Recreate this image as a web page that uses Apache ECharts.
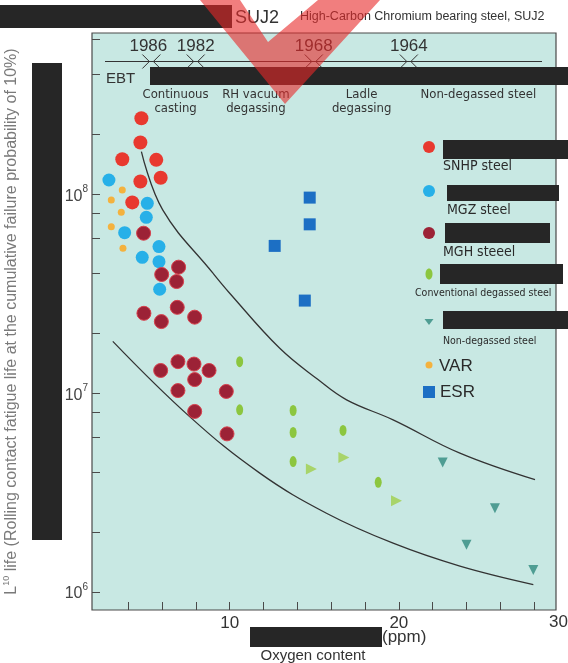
<!DOCTYPE html>
<html>
<head>
<meta charset="utf-8">
<script src="https://cdn.jsdelivr.net/npm/echarts@6/dist/echarts.min.js"></script>
<style>
  html, body { margin: 0; padding: 0; background: #ffffff; }
  #chart { width: 568px; height: 663px; }
</style>
</head>
<body>
<div id="chart"></div>
<script>
// Axis ranges and ticks (oxygen content in ppm, L10 life in cycles)
const xRange = [1.86, 29.29];
const yRange = [8.12e5, 6.47e8];
const xTickValues = [4, 6, 8, 10, 12, 14, 16, 18, 20, 22, 24, 26, 28];
const xLabelValues = [10, 20];
const xEdgeLabel = 30;
const yTickValues = [
  1e6, 2e6, 4e6, 6e6, 8e6,
  1e7, 2e7, 4e7, 6e7, 8e7,
  1e8, 2e8, 4e8, 6e8
];
const yLabelValues = [1e6, 1e7, 1e8];

// Steel grades: [oxygen ppm, L10 life]
const snhpSteel = [[4.78, 2.41e8], [4.72, 1.82e8], [3.65, 1.50e8], [5.66, 1.49e8], [4.72, 1.16e8], [5.92, 1.21e8], [4.24, 9.1e7]];
const mgzSteel = [[2.86, 1.18e8], [5.13, 9.0e7], [5.07, 7.66e7], [3.79, 6.41e7], [5.82, 5.46e7], [4.83, 4.82e7], [5.82, 4.58e7], [5.86, 3.33e7]];
const mghSteel = [[4.91, 6.37e7], [6.98, 4.30e7], [5.98, 3.95e7], [6.86, 3.64e7], [6.90, 2.70e7], [4.93, 2.52e7], [5.96, 2.29e7], [7.93, 2.41e7],
  [5.92, 1.30e7], [6.94, 1.44e7], [7.89, 1.40e7], [8.78, 1.30e7], [7.93, 1.17e7], [6.94, 1.03e7], [9.80, 1.02e7], [7.93, 8.09e6], [9.84, 6.24e6]];
const degassedOval = [[10.59, 1.44e7], [10.59, 8.24e6], [13.75, 8.18e6], [13.75, 6.34e6], [13.75, 4.53e6], [16.70, 6.49e6], [18.78, 3.56e6]];
const degassedTriangle = [[14.83, 4.15e6], [16.75, 4.74e6], [19.86, 2.88e6]];
const nonDegassed = [[22.59, 4.48e6], [25.68, 2.64e6], [24.0, 1.73e6], [27.95, 1.29e6]];
const varSteel = [[3.65, 1.05e8], [3.0, 9.36e7], [3.59, 8.13e7], [3.0, 6.87e7], [3.69, 5.35e7]];
const esrSteel = [[14.73, 9.62e7], [14.73, 7.06e7], [12.66, 5.5e7], [14.44, 2.92e7]];

// Upper and lower bounding curves
const upperBand = [[4.78, 1.64e8], [6.04, 8.34e7], [9.01, 4.01e7], [10.0, 3.18e7], [12.96, 1.68e7], [15.22, 1.17e7], [16.91, 9.25e6], [19.66, 7.34e6], [23.61, 4.99e6], [28.05, 3.67e6]];
const lowerBand = [[3.09, 1.82e7], [7.63, 7.62e6], [11.78, 3.96e6], [15.72, 2.49e6], [19.66, 1.76e6], [23.61, 1.35e6], [27.95, 1.09e6]];

// Process timeline along the oxygen axis
const yearMarks = [
  { year: '1986', oxygen: 5.37, dx: -3 },
  { year: '1982', oxygen: 7.99, dx: 0 },
  { year: '1968', oxygen: 14.97, dx: 0 },
  { year: '1964', oxygen: 20.59, dx: 0 }
];
const stageLabels = [
  { text: 'Continuous\ncasting', oxygen: 6.8 },
  { text: 'RH vacuum\ndegassing', oxygen: 11.55 },
  { text: 'Ladle\ndegassing', oxygen: 17.8 },
  { text: 'Non-degassed steel', oxygen: 24.7 }
];

const FONT = "'Liberation Sans', Arial, sans-serif";
const NARROW = "'Liberation Sans Narrow', 'DejaVu Sans Condensed', 'Liberation Sans', sans-serif";
const INK = '#2a2a2a';
const BAR = '#262626';

const colors = {
  snhp: '#e8392f',
  mgz: '#27b0e8',
  mgh: '#9c2236',
  degassed: '#8cc63f',
  degassedTri: '#a8d46a',
  nonDegassed: '#4f9d93',
  var: '#f4b23e',
  esr: '#1c6fc4'
};

const chart = echarts.init(document.getElementById('chart'));

const option = {
  animation: false,
  grid: {
    left: 92, top: 33, right: 12, bottom: 53,
    containLabel: false,
    outerBoundsMode: 'none',
    show: true,
    backgroundColor: '#c8e8e3',
    borderColor: '#4a4a4a',
    borderWidth: 1.2
  },
  xAxis: {
    type: 'value',
    min: xRange[0],
    max: xRange[1],
    axisLine: { show: false },
    splitLine: { show: false },
    axisTick: {
      show: true, inside: true, length: 8,
      customValues: xTickValues,
      lineStyle: { color: '#4a4a4a', width: 1 }
    },
    axisLabel: {
      customValues: xLabelValues,
      color: '#333', fontSize: 17, fontFamily: FONT, margin: 5
    }
  },
  yAxis: {
    type: 'log',
    logBase: 10,
    min: yRange[0],
    max: yRange[1],
    axisLine: { show: false },
    splitLine: { show: false },
    minorTick: { show: false },
    axisTick: {
      show: true, inside: true, length: 8,
      customValues: yTickValues,
      lineStyle: { color: '#4a4a4a', width: 1 }
    },
    axisLabel: {
      customValues: yLabelValues,
      margin: 4,
      formatter: v => '{b|10}{s|' + Math.round(Math.log10(v)) + '}',
      rich: {
        b: { fontSize: 16, lineHeight: 20, color: '#444', fontFamily: FONT, verticalAlign: 'bottom' },
        s: { fontSize: 10, lineHeight: 10, color: '#444', fontFamily: FONT, verticalAlign: 'top' }
      }
    },
    name: '{b|L}{s|10}{b| life (Rolling contact fatigue life at the cumulative failure probability of 10%)}',
    nameLocation: 'middle',
    nameRotate: 90,
    nameGap: 72,
    nameTextStyle: {
      rich: {
        b: { fontSize: 16, lineHeight: 18, color: '#7a7a7a', fontFamily: FONT, verticalAlign: 'bottom' },
        s: { fontSize: 9, lineHeight: 9, color: '#7a7a7a', fontFamily: FONT, verticalAlign: 'top' }
      }
    }
  },
  series: [
    {
      name: 'Upper band', type: 'line', data: upperBand, smooth: 0.4, symbol: 'none',
      lineStyle: { color: '#333', width: 1.3 }, z: 1
    },
    {
      name: 'Lower band', type: 'line', data: lowerBand, smooth: 0.4, symbol: 'none',
      lineStyle: { color: '#333', width: 1.3 }, z: 1
    },
    {
      name: 'SNHP steel', type: 'scatter', data: snhpSteel, symbol: 'circle', symbolSize: 14,
      itemStyle: { color: colors.snhp, opacity: 1 }
    },
    {
      name: 'MGZ steel', type: 'scatter', data: mgzSteel, symbol: 'circle', symbolSize: 13,
      itemStyle: { color: colors.mgz, opacity: 1 }
    },
    {
      name: 'MGH steel', type: 'scatter', data: mghSteel, symbol: 'circle', symbolSize: 14,
      itemStyle: { color: colors.mgh, borderColor: '#d8404c', borderWidth: 1, opacity: 1 }
    },
    {
      name: 'Conventional degassed steel', type: 'scatter', data: degassedOval, symbol: 'circle', symbolSize: [7, 11],
      itemStyle: { color: colors.degassed, opacity: 1 }
    },
    {
      name: 'Conventional degassed steel (2)', type: 'scatter', data: degassedTriangle, symbol: 'triangle',
      symbolRotate: -90, symbolSize: 11,
      itemStyle: { color: colors.degassedTri, opacity: 1 }
    },
    {
      name: 'Non-degassed steel', type: 'scatter', data: nonDegassed, symbol: 'triangle',
      symbolRotate: 180, symbolSize: 10,
      itemStyle: { color: colors.nonDegassed, opacity: 1 }
    },
    {
      name: 'VAR', type: 'scatter', data: varSteel, symbol: 'circle', symbolSize: 7,
      itemStyle: { color: colors.var, opacity: 1 }
    },
    {
      name: 'ESR', type: 'scatter', data: esrSteel, symbol: 'rect', symbolSize: 12,
      itemStyle: { color: colors.esr, opacity: 1 }
    }
  ]
};

chart.setOption(option);

const xPix = v => chart.convertToPixel({ xAxisIndex: 0 }, v);

const g = [];
const txt = (x, y, text, size, opts = {}) => g.push({
  type: 'text', x, y, z: 20,
  style: Object.assign({
    text, fontSize: size, fontFamily: FONT, fill: INK,
    textAlign: 'left', textVerticalAlign: 'middle'
  }, opts)
});
const bar = (x, y, w, h) => g.push({
  type: 'rect', z: 30, shape: { x, y, width: w, height: h }, style: { fill: BAR }
});

// Header
bar(0, 5, 232, 23);
txt(235, 18, 'SUJ2', 18, { fill: '#333' });
txt(300, 17, 'High-Carbon Chromium bearing steel, SUJ2', 12.5, { fill: '#333' });

// Y-axis second caption bar
bar(32, 63, 30, 477);

// Timeline
const lineY = 61.5;
g.push({ type: 'line', z: 20, shape: { x1: 105, y1: lineY, x2: 542, y2: lineY }, style: { stroke: '#333', lineWidth: 1 } });
yearMarks.forEach(m => {
  const p = xPix(m.oxygen);
  txt(p + m.dx, 46, m.year, 17, { textAlign: 'center', fill: '#333' });
  g.push({ type: 'polyline', z: 21, shape: { points: [[p - 9, lineY - 7], [p - 2, lineY], [p - 9, lineY + 7]] }, style: { stroke: '#333', lineWidth: 1, fill: null } });
  g.push({ type: 'polyline', z: 21, shape: { points: [[p + 9, lineY - 7], [p + 2, lineY], [p + 9, lineY + 7]] }, style: { stroke: '#333', lineWidth: 1, fill: null } });
});
txt(106, 79, 'EBT', 15, { fill: '#333' });
bar(150, 67, 418, 18);
stageLabels.forEach(s => {
  txt(xPix(s.oxygen), 88, s.text, 13, {
    textAlign: 'center', textVerticalAlign: 'top', fontFamily: NARROW, lineHeight: 13.5, fill: '#333'
  });
});

// Legend
const legendX = 429;
g.push({ type: 'circle', z: 20, shape: { cx: legendX, cy: 147, r: 6 }, style: { fill: colors.snhp } });
bar(443, 140, 125, 19);
txt(443, 166, 'SNHP steel', 14, { fontFamily: NARROW });

g.push({ type: 'circle', z: 20, shape: { cx: legendX, cy: 191, r: 6 }, style: { fill: colors.mgz } });
bar(447, 185, 112, 16);
txt(447, 210, 'MGZ steel', 14, { fontFamily: NARROW });

g.push({ type: 'circle', z: 20, shape: { cx: legendX, cy: 233, r: 6 }, style: { fill: colors.mgh } });
bar(445, 223, 105, 20);
txt(443, 252, 'MGH steeel', 14, { fontFamily: NARROW });

g.push({ type: 'ellipse', z: 20, shape: { cx: legendX, cy: 274, rx: 3.5, ry: 5.5 }, style: { fill: colors.degassed } });
bar(440, 264, 123, 20);
txt(415, 293, 'Conventional degassed steel', 10.5, { fontFamily: NARROW });

g.push({ type: 'polygon', z: 20, shape: { points: [[legendX - 4.5, 319], [legendX + 4.5, 319], [legendX, 325]] }, style: { fill: colors.nonDegassed } });
bar(443, 311, 125, 18);
txt(443, 341, 'Non-degassed steel', 10.5, { fontFamily: NARROW });

g.push({ type: 'circle', z: 20, shape: { cx: legendX, cy: 365, r: 3.5 }, style: { fill: colors.var } });
txt(439, 366, 'VAR', 17);

g.push({ type: 'rect', z: 20, shape: { x: legendX - 6, y: 386, width: 12, height: 12 }, style: { fill: colors.esr } });
txt(440, 392, 'ESR', 17);

// X-axis caption
txt(xPix(xEdgeLabel), 622, String(xEdgeLabel), 17, { textAlign: 'right', fill: '#333' });
bar(250, 627, 132, 20);
txt(382, 637, '(ppm)', 17, { fill: '#333' });
txt(313, 656, 'Oxygen content', 15, { textAlign: 'center', fill: '#333' });

// Stamp across the top
g.push({
  type: 'polygon', z: 50,
  shape: { points: [[200, 0], [240, 0], [268, 42], [318, 0], [380, 0], [285, 104]] },
  style: { fill: 'rgba(232, 40, 40, 0.6)' }
});

chart.setOption({ graphic: g });
</script>
</body>
</html>
